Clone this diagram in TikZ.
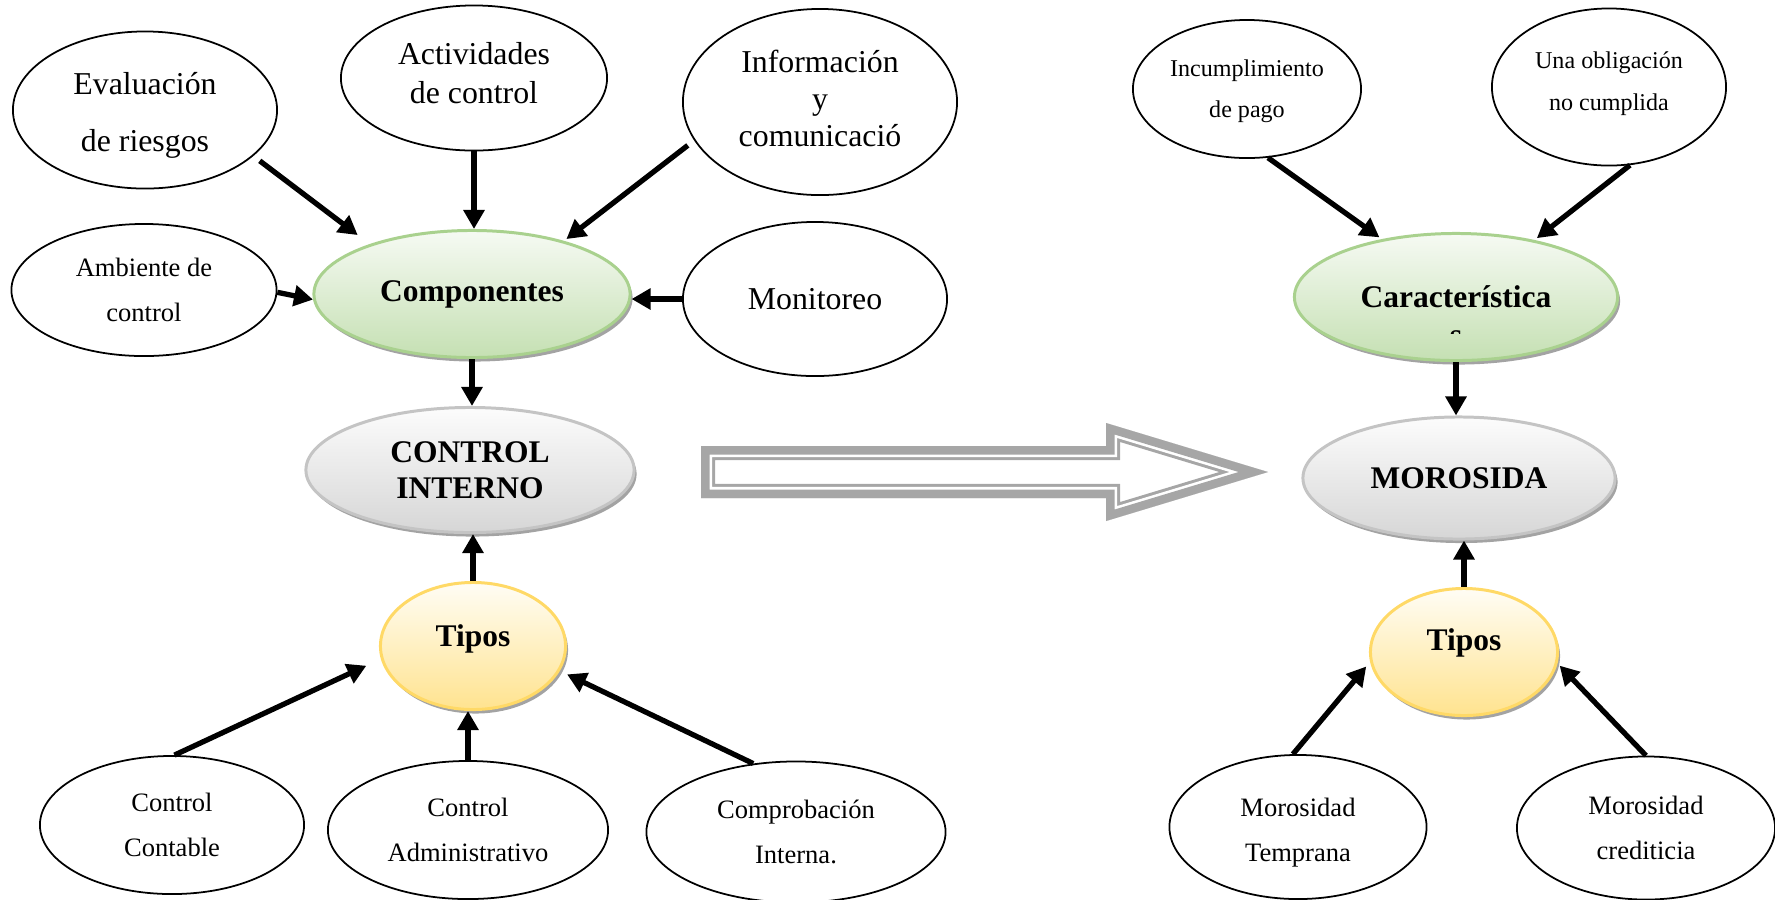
\documentclass[tikz,border=0pt]{standalone}
\usepackage{fontspec}
\setmainfont{Liberation Serif}
\usetikzlibrary{arrows.meta,shapes.geometric,shadows,calc}
\definecolor{grnB}{HTML}{A9D18E}
\definecolor{grnTop}{HTML}{F6FAF3}
\definecolor{grnBot}{HTML}{C5E0B3}
\definecolor{gryB}{HTML}{C4C4C4}
\definecolor{gryTop}{HTML}{FCFCFC}
\definecolor{gryBot}{HTML}{D6D6D6}
\definecolor{ylwB}{HTML}{FFD966}
\definecolor{ylwTop}{HTML}{FFFDF5}
\definecolor{ylwBot}{HTML}{FFE38F}
\definecolor{agray}{HTML}{A6A6A6}
\tikzset{
  ft/.style 2 args={font=\fontsize{#1pt}{#2pt}\selectfont},
  pl/.style={ellipse, draw=black, line width=0.5pt, inner sep=0pt, align=center},
  colell/.style={ellipse, inner sep=0pt, align=center, line width=0.85pt,
    font=\fontsize{8.96pt}{10.2pt}\selectfont\bfseries,
    drop shadow={shadow xshift=0.025cm, shadow yshift=-0.04cm, fill=black!45, opacity=0.8}},
  grn/.style={colell, draw=grnB, top color=grnTop, bottom color=grnBot},
  gry/.style={colell, draw=gryB, top color=gryTop, bottom color=gryBot},
  ylw/.style={colell, draw=ylwB, top color=ylwTop, bottom color=ylwBot},
  arr/.style={line width=1.5pt, -{Triangle[length=5.4pt,width=5.8pt]}},
}
\begin{document}
\begin{tikzpicture}[x=0.01cm, y=-0.01cm]
\path[use as bounding box] (0,0) rectangle (1775,899);
\clip (0,0) rectangle (1775,899);

% left top ring
\node[pl, minimum width=2.64cm, minimum height=1.57cm,
  label={[ft={9.05}{16.2}, align=center, yshift=-0.05cm]center:{Evaluación\\de riesgos}}] (ev) at (145,110) {};
\node[pl, minimum width=2.66cm, minimum height=1.45cm,
  label={[ft={9.05}{11}, align=center, yshift=0.05cm]center:{Actividades\\de control}}] (act) at (474,78) {};
\node[pl, minimum width=2.74cm, minimum height=1.86cm,
  label={[ft={9.05}{10.5}, align=center, yshift=0.034cm]center:{Información\\y\\comunicació}}] (info) at (820,102) {};
\node[pl, minimum width=2.65cm, minimum height=1.32cm, ft={7.55}{12.8}] (amb) at (144,290) {Ambiente de\\control};
\node[grn, minimum width=3.16cm, minimum height=1.27cm] (comp) at (472,294) {Componentes};
\node[pl, minimum width=2.64cm, minimum height=1.54cm, ft={9.05}{11}] (mon) at (815,299) {Monitoreo};
\node[gry, minimum width=3.28cm, minimum height=1.25cm] (ci) at (470,470) {CONTROL\\INTERNO};
\node[ylw, minimum width=1.85cm, minimum height=1.27cm, text height=6pt, text depth=6pt] (tip1) at (473,646) {Tipos};
\node[pl, minimum width=2.64cm, minimum height=1.38cm, ft={7.55}{12.8}] (cc) at (172,825) {Control\\Contable};
\node[pl, minimum width=2.80cm, minimum height=1.38cm, ft={7.55}{12.8}] (ca) at (468,830) {Control\\Administrativo};
\node[pl, minimum width=2.99cm, minimum height=1.41cm, ft={7.55}{12.8}] (cin) at (796,832) {Comprobación\\Interna.};

% right side
\node[pl, minimum width=2.28cm, minimum height=1.38cm,
  label={[ft={6.85}{11.8}, align=center, yshift=-0.023cm]center:{Incumplimiento\\de pago}}] (inc) at (1247,89) {};
\node[pl, minimum width=2.34cm, minimum height=1.57cm,
  label={[ft={6.85}{11.8}, align=center, yshift=0.034cm]center:{Una obligación\\no cumplida}}] (una) at (1609,87) {};
\node[grn, minimum width=3.23cm, minimum height=1.27cm] (car) at (1456,297) {Característica};
\begin{scope}
  \clip ([xshift=-0.3cm, yshift=-0.31cm]car.center) rectangle ([xshift=0.3cm, yshift=-0.365cm]car.center);
  \node[font=\fontsize{8.96pt}{10.2pt}\selectfont\bfseries, anchor=base, inner sep=0pt] (cars) at ([yshift=-0.48cm]car.center) {s};
\end{scope}
\node[gry, minimum width=3.12cm, minimum height=1.22cm] (mor) at (1459,478) {MOROSIDA};
\node[ylw, minimum width=1.87cm, minimum height=1.27cm, text height=6pt, text depth=6.8pt] (tip2) at (1464,652) {Tipos};
\node[pl, minimum width=2.57cm, minimum height=1.44cm,
  label={[ft={7.55}{12.8}, align=center, yshift=-0.057cm]center:{Morosidad\\Temprana}}] (mt) at (1298,827) {};
\node[pl, minimum width=2.58cm, minimum height=1.43cm, ft={7.55}{12.8}] (mc) at (1646,828) {Morosidad\\crediticia};

% connectors left
\draw[arr, shorten <=0.08cm, shorten >=0.15cm] (ev.-23.5) -- (comp.154.4);
\draw[arr] (act.south) -- (act.south |- comp.north);
\draw[arr, shorten <=0.08cm, shorten >=0.03cm] (info.197.4) -- (comp.30.1);
\draw[arr] (amb.-1.3) -- (comp.182.2);
\draw[arr] (mon.west) -- (mon.west -| comp.east);
\draw[arr] (comp.south) -- (comp.south |- ci.north);
\draw[arr] (tip1.north) -- (tip1.north |- ci.south);
\draw[arr, shorten >=0.16cm] (cc.88) -- (tip1.188.5);
\draw[arr] (ca.north) -- (ca.north |- tip1.south);
\draw[arr, shorten >=0.08cm] (cin.122.9) -- (tip1.-16.8);

% connectors right
\draw[arr, shorten >=0.03cm] (inc.-73) -- (car.142.9);
\draw[arr, shorten >=0.03cm] (una.-75) -- (car.36.1);
\draw[arr] (car.south) -- (car.south |- mor.north);
\draw[arr] (tip2.north) -- (tip2.north |- mor.south);
\draw[arr, shorten >=0.06cm] (mt.94) -- (tip2.186.9);
\draw[arr, shorten >=0.03cm] (mc.90) -- (tip2.-7.1);

% big hollow arrow
\def\bigarrow{(701,446) -- (1106,446) -- (1106,423) -- (1268,472) -- (1106,521) -- (1106,498) -- (701,498) -- cycle}
\begin{scope}
  \clip \bigarrow;
  \draw[agray, line width=0.282cm, line join=miter] \bigarrow;
  \draw[white, line width=0.222cm, line join=miter] \bigarrow;
  \draw[agray, line width=0.17cm, line join=miter] \bigarrow;
\end{scope}
\end{tikzpicture}
\end{document}
